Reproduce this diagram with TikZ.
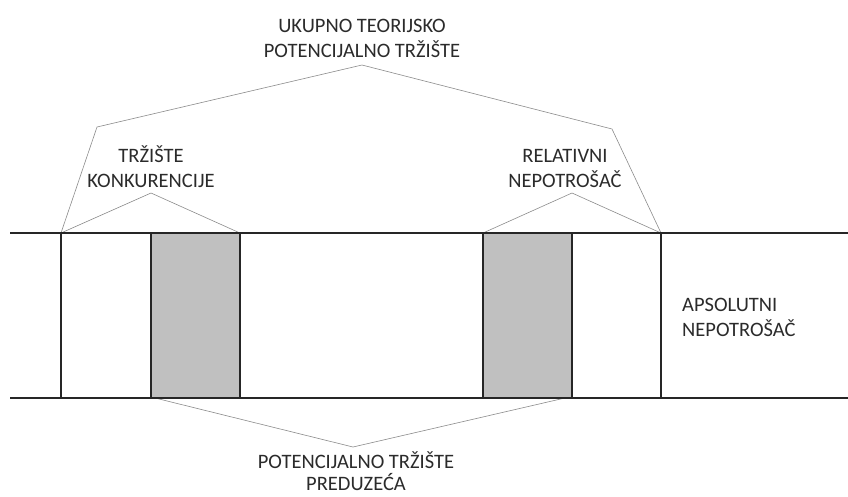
\documentclass[tikz,border=0pt]{standalone}
\usepackage{fontspec}
\setmainfont{Carlito}
\definecolor{txt}{HTML}{2B2B2B}
\definecolor{boxgray}{HTML}{C0C0C0}
\definecolor{thin}{HTML}{8C8C8C}
\begin{document}
\begin{tikzpicture}[x=1pt,y=-1pt,
  lbl/.style={text=txt,font=\fontsize{20.5}{25}\selectfont,align=center,inner sep=0pt},
  mainline/.style={draw=black!85,line width=1.6pt},
  guide/.style={draw=thin,line width=0.6pt},
  shaded/.style={fill=boxgray}]
\useasboundingbox (0,0) rectangle (848,496);
\fill[white] (0,0) rectangle (848,496);
% corner coordinates
\coordinate (a1) at (61,233);  \coordinate (a2) at (61,398);
\coordinate (b1) at (151,233); \coordinate (b2) at (151,398);
\coordinate (c1) at (240,233); \coordinate (c2) at (240,398);
\coordinate (d1) at (483,233); \coordinate (d2) at (483,398);
\coordinate (e1) at (572,233); \coordinate (e2) at (572,398);
\coordinate (f1) at (661,233); \coordinate (f2) at (661,398);
\coordinate (lt) at (10,233);  \coordinate (rt) at (848,233);
\coordinate (lb) at (10,398);  \coordinate (rb) at (848,398);
% gray boxes
\fill[shaded] (b1) rectangle (c2);
\fill[shaded] (d1) rectangle (e2);
% guide lines
\coordinate (t1) at (97,127); \coordinate (t2) at (362,65); \coordinate (t3) at (612,129);
\coordinate (k) at (151,193); \coordinate (r) at (572,193);
\coordinate (pl) at (155,398); \coordinate (pv) at (353,447); \coordinate (pr) at (565,398);
\draw[guide] (a1) -- (t1) -- (t2) -- (t3) -- (f1);
\draw[guide] (a1) -- (k) -- (c1);
\draw[guide] (d1) -- (r) -- (f1);
\draw[guide] (pl) -- (pv) -- (pr);
% main lines
\draw[mainline] (lt) -- (rt);
\draw[mainline] (lb) -- (rb);
\foreach \p in {a,b,c,d,e,f} {\draw[mainline] (\p1) -- (\p2);}
% labels (base anchor = baseline of last line)
\node[lbl,anchor=base] (ut) at (362,57) {UKUPNO TEORIJSKO\\POTENCIJALNO TRŽIŠTE};
\node[lbl,anchor=base] (tk) at (151,187) {TRŽIŠTE\\KONKURENCIJE};
\node[lbl,anchor=base] (rn) at (565,187) {RELATIVNI\\NEPOTROŠAČ};
\node[lbl,anchor=base west,align=left] (an) at (682,336) {APSOLUTNI\\NEPOTROŠAČ};
\node[lbl,anchor=base,font=\fontsize{20.5}{22}\selectfont] (pt) at (356,490) {POTENCIJALNO TRŽIŠTE\\PREDUZEĆA};
\end{tikzpicture}
\end{document}
